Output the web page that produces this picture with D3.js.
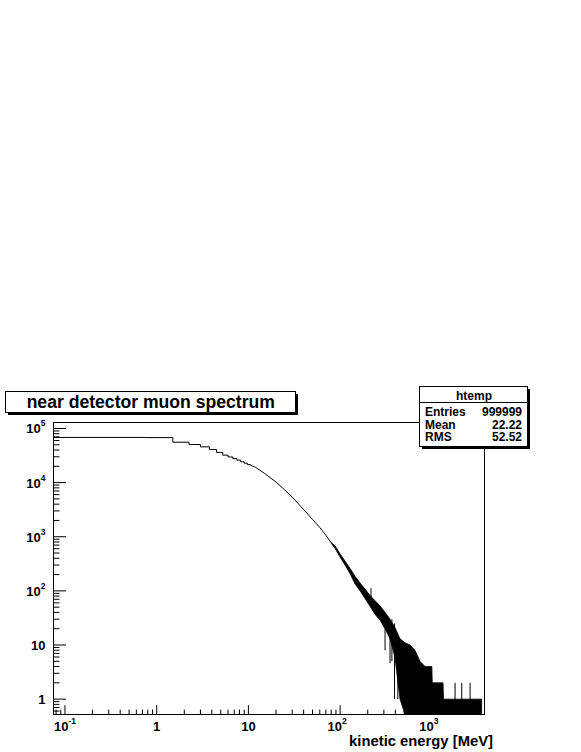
<!DOCTYPE html>
<html><head><meta charset="utf-8">
<script src="https://cdn.jsdelivr.net/npm/d3@7"></script>
<style>
body{margin:0;background:#fff}
svg{display:block}
text{font-family:"Liberation Sans",Arial,Helvetica,sans-serif;font-weight:bold;fill:#000}
</style>
</head><body>
<svg id="c" width="581" height="752"></svg>
<script>
// ---------- data ----------
const chartTitle = "near detector muon spectrum";
const xAxisTitle = "kinetic energy [MeV]";
const statsName = "htemp";
const statsLabels = ["Entries", "Mean", "RMS"];
const statsValues = ["999999", "22.22", "52.52"];

const xDomain = [0.075, 3750];
const yDomain = [0.52, 1.29e5];

const xTickValues = [0.1, 1, 10, 100, 1000];
const xTickBase   = ["10", "1", "10", "10", "10"];
const xTickExp    = ["-1", "", "", "2", "3"];
const yTickValues = [1, 10, 100, 1000, 10000, 100000];
const yTickBase   = ["1", "10", "10", "10", "10", "10"];
const yTickExp    = ["", "", "2", "3", "4", "5"];

// histogram bins of 0.75 MeV, first bins (visible steps)
const binWidth = 0.75;
const lowBinCounts = [68300, 67800, 55700, 50600, 45800, 40800, 36080, 32170,
                      29800, 27700, 26000, 24270, 22860, 21540];
// smooth part (bins narrower than a pixel)
const curveE     = [10.5, 12, 15, 20, 25, 30, 40, 50, 60, 70, 80];
const curveCount = [21000, 19100, 14800, 10260, 7300, 5410, 3180, 2090, 1480, 1066, 767];
// noisy tail: upper / lower envelope of the bin contents (0 = empty bins)
const tailE   = [80, 88, 100, 113, 128, 145, 165, 187, 212, 240, 272, 309, 350, 396,
                 450, 510, 578, 655, 743, 842, 955, 1000, 1010, 1325, 1340, 3490];
const tailMax = [775, 680, 480, 355, 262, 187, 140, 108, 82, 66, 53, 40, 30, 21,
                 13, 11, 10, 8, 5, 4, 4, 4, 2, 2, 1, 1];
const tailMin = [760, 610, 420, 300, 210, 135, 100, 72, 52, 37, 29, 20, 13, 6,
                 1, 0, 0, 0, 0, 0, 0, 0, 0, 0, 0, 0];
// isolated spikes
const spikeE      = [217, 309, 350, 367, 392, 426, 1791, 2118, 2611];
const spikeTop    = [112, 35, 25, 30, 25, 8, 2, 2, 2];
const spikeBottom = [60, 8, 4.6, 5, 1, 1, 0, 0, 0];

// ---------- drawing ----------
const svg = d3.select("#c");
const x = d3.scaleLog().domain(xDomain).range([53, 484]);
const y = d3.scaleLog().domain(yDomain).range([714, 422]);
const X = v => x(v) + 0.5;
const Y = v => y(v) + 0.5;
const bottom = 714.5;

// frame
svg.append("rect").attr("x", 53.5).attr("y", 422.5).attr("width", 431).attr("height", 292)
  .attr("fill", "none").attr("stroke", "#000").attr("stroke-width", 1);

function minors(dom) {
  const out = [];
  for (let d = -3; d <= 6; d++) for (let m = 2; m <= 9; m++) {
    const v = m * Math.pow(10, d);
    if (v >= dom[0] && v <= dom[1]) out.push(v);
  }
  return out;
}

// x axis (ticks inward)
svg.append("g").attr("transform", "translate(0,714)")
  .call(d3.axisBottom(x).tickValues(xTickValues).tickSize(-8.8).tickSizeOuter(0).tickFormat(""))
  .call(g => g.selectAll("line,path").attr("stroke", "#000"));
svg.append("g").attr("transform", "translate(0,714)")
  .call(d3.axisBottom(x).tickValues(minors(xDomain)).tickSize(-4.4).tickSizeOuter(0).tickFormat(""))
  .call(g => g.selectAll("line,path").attr("stroke", "#000"));
// y axis
svg.append("g").attr("transform", "translate(53,0)")
  .call(d3.axisLeft(y).tickValues(yTickValues).tickSize(-13).tickSizeOuter(0).tickFormat(""))
  .call(g => g.selectAll("line,path").attr("stroke", "#000"));
svg.append("g").attr("transform", "translate(53,0)")
  .call(d3.axisLeft(y).tickValues(minors(yDomain)).tickSize(-6.5).tickSizeOuter(0).tickFormat(""))
  .call(g => g.selectAll("line,path").attr("stroke", "#000"));

// tick labels
function powLabel(g, px, py, base, exp, anchor) {
  const t = g.append("text").attr("x", px).attr("y", py).attr("text-anchor", anchor)
    .style("font-size", "13px");
  t.append("tspan").text(base);
  if (exp) t.append("tspan").attr("dy", -7).style("font-size", "8.5px").text(exp);
  return t;
}
xTickValues.forEach((v, i) => {
  const shift = xTickExp[i].length === 1 ? -3 : 0;
  powLabel(svg, X(v) + shift, 730.5, xTickBase[i], xTickExp[i], "middle");
});
yTickValues.forEach((v, i) => powLabel(svg, 45.5, Y(v) + 5, yTickBase[i], yTickExp[i], "end"));

// axis title
svg.append("text").attr("x", 493).attr("y", 746).attr("text-anchor", "end")
  .style("font-size", "14.8px").text(xAxisTitle);

// histogram: stepped low bins + smooth part
const p = d3.path();
lowBinCounts.forEach((c, i) => {
  const e0 = Math.max(i * binWidth, xDomain[0]);
  const e1 = (i + 1) * binWidth;
  if (i === 0) p.moveTo(X(e0), Y(c)); else p.lineTo(X(e0), Y(c));
  p.lineTo(X(e1), Y(c));
});
curveE.forEach((e, i) => p.lineTo(X(e), Y(curveCount[i])));
svg.append("path").attr("d", p.toString()).attr("fill", "none")
  .attr("stroke", "#000").attr("stroke-width", 1);

// noisy tail band
const tail = tailE.map((e, i) => ({e, hi: tailMax[i], lo: tailMin[i]}));
svg.append("path").datum(tail)
  .attr("d", d3.area().x(d => X(d.e)).y1(d => Y(d.hi)).y0(d => d.lo > 0 ? Y(d.lo) : bottom))
  .attr("fill", "#000").attr("stroke", "#000").attr("stroke-width", 0.8);

// spikes
spikeE.forEach((e, i) => {
  svg.append("line").attr("x1", X(e)).attr("x2", X(e))
    .attr("y1", Y(spikeTop[i])).attr("y2", spikeBottom[i] > 0 ? Y(spikeBottom[i]) : bottom)
    .attr("stroke", "#000").attr("stroke-width", 1);
});

// title box
svg.append("rect").attr("x", 8).attr("y", 394).attr("width", 290).attr("height", 21).attr("fill", "#000");
svg.append("rect").attr("x", 5.5).attr("y", 391.5).attr("width", 290).attr("height", 21)
  .attr("fill", "#fff").attr("stroke", "#000").attr("stroke-width", 1);
svg.append("text").attr("x", 150.8).attr("y", 407.7).attr("text-anchor", "middle")
  .style("font-size", "17.6px").text(chartTitle);

// stats box
svg.append("rect").attr("x", 422).attr("y", 389).attr("width", 108).attr("height", 60).attr("fill", "#000");
svg.append("rect").attr("x", 419.5).attr("y", 386.5).attr("width", 108).attr("height", 60)
  .attr("fill", "#fff").attr("stroke", "#000").attr("stroke-width", 1);
svg.append("line").attr("x1", 419.5).attr("x2", 527.5).attr("y1", 402.5).attr("y2", 402.5)
  .attr("stroke", "#000");
svg.append("text").attr("x", 474).attr("y", 399.5).attr("text-anchor", "middle")
  .style("font-size", "12px").text(statsName);
const rowY = [416, 428.7, 441.3];
statsLabels.forEach((l, i) => {
  svg.append("text").attr("x", 425).attr("y", rowY[i]).style("font-size", "12px").text(l);
  svg.append("text").attr("x", 522).attr("y", rowY[i]).attr("text-anchor", "end")
    .style("font-size", "12px").text(statsValues[i]);
});
</script>
</body></html>
